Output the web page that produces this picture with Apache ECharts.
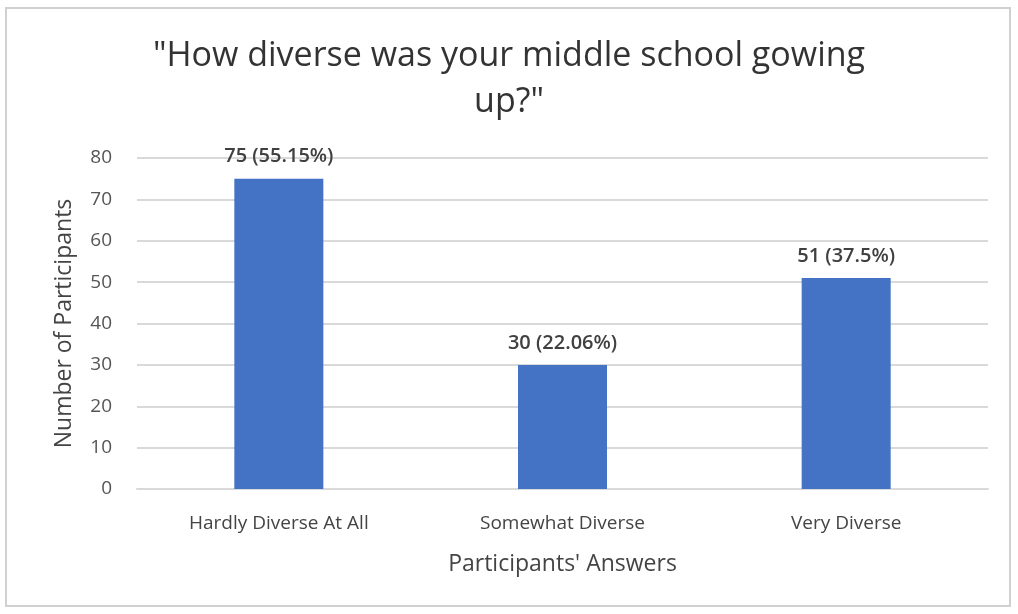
<!DOCTYPE html>
<html><head><meta charset="utf-8">
<script src="https://cdn.jsdelivr.net/npm/echarts@6/dist/echarts.min.js"></script>
<style>html,body{margin:0;padding:0;background:#fff}#c{width:1018px;height:614px}</style>
</head><body><div id="c"></div>
<script>
const categories = ["Hardly Diverse At All", "Somewhat Diverse", "Very Diverse"];
const counts = [75, 30, 51];
const percents = ["55.15%", "22.06%", "37.5%"];
const yTicks = [0, 10, 20, 30, 40, 50, 60, 70, 80];

const chart = echarts.init(document.getElementById('c'));
const font = '"Open Sans", "Noto Sans", sans-serif';
chart.setOption({
  backgroundColor: '#fff',
  animation: false,
  graphic: [{type: 'rect', shape: {x: 6, y: 8, width: 1004, height: 598},
    style: {fill: 'none', stroke: '#d0d0d0', lineWidth: 2}}],
  title: {
    text: '"How diverse was your middle school gowing\nup?"',
    left: 'center', top: 28,
    textStyle: {fontFamily: font, fontSize: 34, fontWeight: 'normal', color: '#333', lineHeight: 46}
  },
  grid: {left: 137, right: 30, top: 158, bottom: 125},
  xAxis: {
    type: 'category', data: categories,
    name: "Participants' Answers", nameLocation: 'middle', nameGap: 64,
    nameTextStyle: {fontFamily: font, fontSize: 23, color: '#444'},
    axisLine: {lineStyle: {color: '#d9d9d9', width: 2}},
    axisTick: {show: false},
    axisLabel: {fontFamily: font, fontSize: 19, color: '#444', margin: 25}
  },
  yAxis: {
    type: 'value', min: 0, max: 80, interval: 10,
    name: 'Number of Participants', nameLocation: 'middle', nameGap: 61,
    nameTextStyle: {fontFamily: font, fontSize: 23, color: '#444'},
    axisLine: {show: false}, axisTick: {show: false},
    axisLabel: {fontFamily: font, fontSize: 19, color: '#555', margin: 25,
      formatter: v => yTicks.includes(v) ? String(v) : ''},
    splitLine: {lineStyle: {color: '#d9d9d9', width: 2}}
  },
  series: [{
    type: 'bar', data: counts, barWidth: 89,
    itemStyle: {color: '#4472C4'},
    label: {show: true, position: 'top', distance: 12,
      fontFamily: font, fontSize: 20, color: '#404040', fontWeight: 600,
      formatter: p => counts[p.dataIndex] + ' (' + percents[p.dataIndex] + ')'}
  }]
});
</script></body></html>
